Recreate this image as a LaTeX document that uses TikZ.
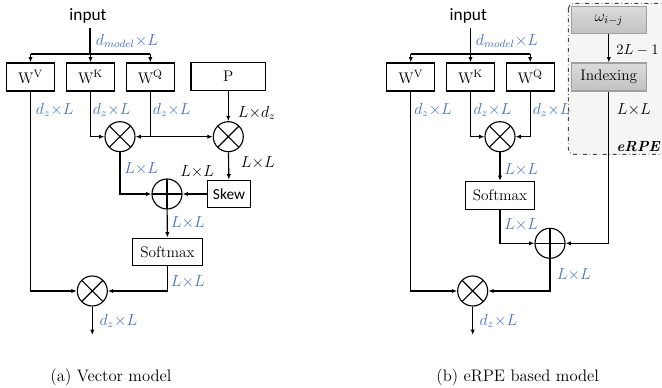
\documentclass[tikz,border=0pt]{standalone}
\usepackage{amsmath}
\usepackage{fontspec}
\newfontfamily\calibri{Carlito}
\usepackage{tikz}
\usetikzlibrary{shapes,arrows.meta}
\definecolor{dimblue}{RGB}{68,114,196}
\tikzset{
  unitbox/.style={rectangle, draw, line width=0.85pt, minimum width=36pt, minimum height=21pt, inner sep=1pt, font=\fontsize{11.5}{13}\selectfont},
  graybox/.style={unitbox, draw=gray!75, top color=gray!28, bottom color=gray!48, minimum width=56pt, minimum height=20.5pt},
  mulop/.style={circle, draw, line width=0.85pt, minimum size=22.5pt, inner sep=0pt,
    path picture={\draw[line width=0.85pt] (path picture bounding box.north west) -- (path picture bounding box.south east)
      (path picture bounding box.north east) -- (path picture bounding box.south west);}},
  addop/.style={circle, draw, line width=0.85pt, minimum size=22.5pt, inner sep=0pt,
    path picture={\draw[line width=0.85pt] (path picture bounding box.north) -- (path picture bounding box.south)
      (path picture bounding box.west) -- (path picture bounding box.east);}},
  dimlabel/.style={anchor=west, inner sep=0pt, text=dimblue, font=\fontsize{11.5}{13}\selectfont},
  shapelabel/.style={dimlabel, text=black},
  flow/.style={-{Latex[length=4pt,width=3.2pt]}, line width=0.85pt},
  wire/.style={line width=0.85pt}
}
\newcommand{\attbox}[3] {\node at (#1) (#2) [unitbox] {#3};}
\newcommand{\attmul}[2] {\node at (#1) (#2) [mulop] {};}
\newcommand{\attadd}[2] {\node at (#1) (#2) [addop] {};}
\newcommand{\attdim}[3] {\node at (#1) (#2) [dimlabel] {$#3$};}
\newcommand{\attdimk}[3] {\node at (#1) (#2) [shapelabel] {$#3$};}
\newcommand{\attflow}[2] {\draw [flow] (#1) -- (#2);}
\newcommand{\attelbow}[2] {\draw [flow] (#1) |- (#2);}

\begin{document}
\begin{tikzpicture}[x=0.75pt, y=-0.75pt]
\useasboundingbox (0,0) rectangle (662,388);

\node at (88,16) (inA) [font=\calibri\fontsize{13}{15}\selectfont] {input};
\coordinate (brA) at (90,54);
\attbox{30.5,77}{WVa}{W\textsuperscript{V}}
\attbox{90.5,77}{WKa}{W\textsuperscript{K}}
\attbox{150.3,77}{WQa}{W\textsuperscript{Q}}
\node at (228.3,76.5) (Pa) [unitbox, minimum width=56pt] {P};
\attmul{120,136.7}{mulKQa}
\attmul{228.3,136.7}{mulPa}
\node at (229,194) (skewa) [unitbox, minimum width=31.7pt, minimum height=20.8pt, font=\calibri\fontsize{11.5}{13}\selectfont] {Skew};
\attadd{167,194}{adda}
\node at (167.5,252) (smaxa) [unitbox, minimum width=52.2pt, minimum height=20.8pt] {Softmax};
\attmul{92.3,291}{mulVa}
\coordinate (outa) at (92.3,335);
\coordinate (qja) at (150.3,136.7);

\draw [wire] (inA.south -| brA) -- (brA);
\draw [wire] (WVa |- brA) -- (WQa |- brA);
\foreach \w in {WVa,WKa,WQa} {\attflow{\w |- brA}{\w.north}}
\attelbow{WKa.south}{mulKQa.west}
\draw [wire] (WQa.south) -- (qja);
\attflow{qja}{mulKQa.east}
\attflow{qja}{mulPa.west}
\attflow{Pa}{mulPa}
\attflow{mulPa}{skewa}
\attelbow{mulKQa.south}{adda.west}
\attflow{skewa}{adda}
\attflow{adda}{smaxa}
\attelbow{smaxa.south}{mulVa.east}
\attelbow{WVa.south}{mulVa.west}
\attflow{mulVa}{outa}

\attdim{95.7,40.7}{dinA}{d_{model}{\times}L}
\attdim{35.7,110}{dVa}{d_z{\times}L}
\attdim{92.7,110}{dKa}{d_z{\times}L}
\attdim{152.7,110}{dQa}{d_z{\times}L}
\attdimk{237.7,113}{dPa}{L{\times}d_z}
\attdim{124,169}{dKQa}{L{\times}L}
\attdimk{240.7,162.7}{dmPa}{L{\times}L}
\attdimk{180,171.7}{dskewa}{L{\times}L}
\attdim{170.7,222.3}{dadda}{L{\times}L}
\attdim{170.7,281.7}{dsmaxa}{L{\times}L}
\attdim{99.3,320.7}{douta}{d_z{\times}L}
\node at (111,377) (capa) [font=\fontsize{12.5}{14}\selectfont] {(a) Vector model};

\draw [dash dot, rounded corners=4pt, fill=gray!8, draw=gray!55!black, line width=0.7pt] (568.3,3.3) rectangle (666,154.3);
\node at (608.8,20) (omega) [graybox, minimum height=20pt] {$\omega_{i-j}$};
\node at (608.8,77) (idx) [graybox, minimum height=21pt] {Indexing};
\node at (660,146.7) (erpe) [anchor=east, inner sep=0pt, font=\fontsize{11}{13}\selectfont\bfseries\itshape] {eRPE};

\node at (468.3,16) (inB) [font=\calibri\fontsize{13}{15}\selectfont] {input};
\coordinate (brB) at (470.7,54);
\attbox{410.8,77}{WVb}{W\textsuperscript{V}}
\attbox{470.5,77}{WKb}{W\textsuperscript{K}}
\attbox{530.2,77}{WQb}{W\textsuperscript{Q}}
\attmul{500,136.7}{mulKQb}
\node at (500,195.3) (smaxb) [unitbox, minimum width=52.2pt, minimum height=20.8pt] {Softmax};
\attadd{550,243.3}{addb}
\attmul{472.7,291}{mulVb}
\coordinate (outb) at (472.7,335);

\draw [wire] (inB.south -| brB) -- (brB);
\draw [wire] (WVb |- brB) -- (WQb |- brB);
\foreach \w in {WVb,WKb,WQb} {\attflow{\w |- brB}{\w.north}}
\attelbow{WKb.south}{mulKQb.west}
\attelbow{WQb.south}{mulKQb.east}
\attflow{mulKQb}{smaxb}
\attelbow{smaxb.south}{addb.west}
\attflow{omega}{idx}
\attelbow{idx.south}{addb.east}
\attelbow{addb.south}{mulVb.east}
\attelbow{WVb.south}{mulVb.west}
\attflow{mulVb}{outb}

\attdim{475.7,41}{dinB}{d_{model}{\times}L}
\attdim{414,110}{dVb}{d_z{\times}L}
\attdim{473.3,110}{dKb}{d_z{\times}L}
\attdim{532.7,110}{dQb}{d_z{\times}L}
\node at (616,50) (domega) [shapelabel, font=\fontsize{10.5}{12}\selectfont] {$2L-1$};
\attdimk{616.7,110}{didx}{L{\times}L}
\attdim{504,170}{dKQb}{L{\times}L}
\attdim{504,225}{dsmaxb}{L{\times}L}
\attdim{556.7,275}{daddb}{L{\times}L}
\attdim{479.3,320.7}{doutb}{d_z{\times}L}
\node at (517.7,377) (capb) [font=\fontsize{12.5}{14}\selectfont] {(b) eRPE based model};

\end{tikzpicture}
\end{document}
